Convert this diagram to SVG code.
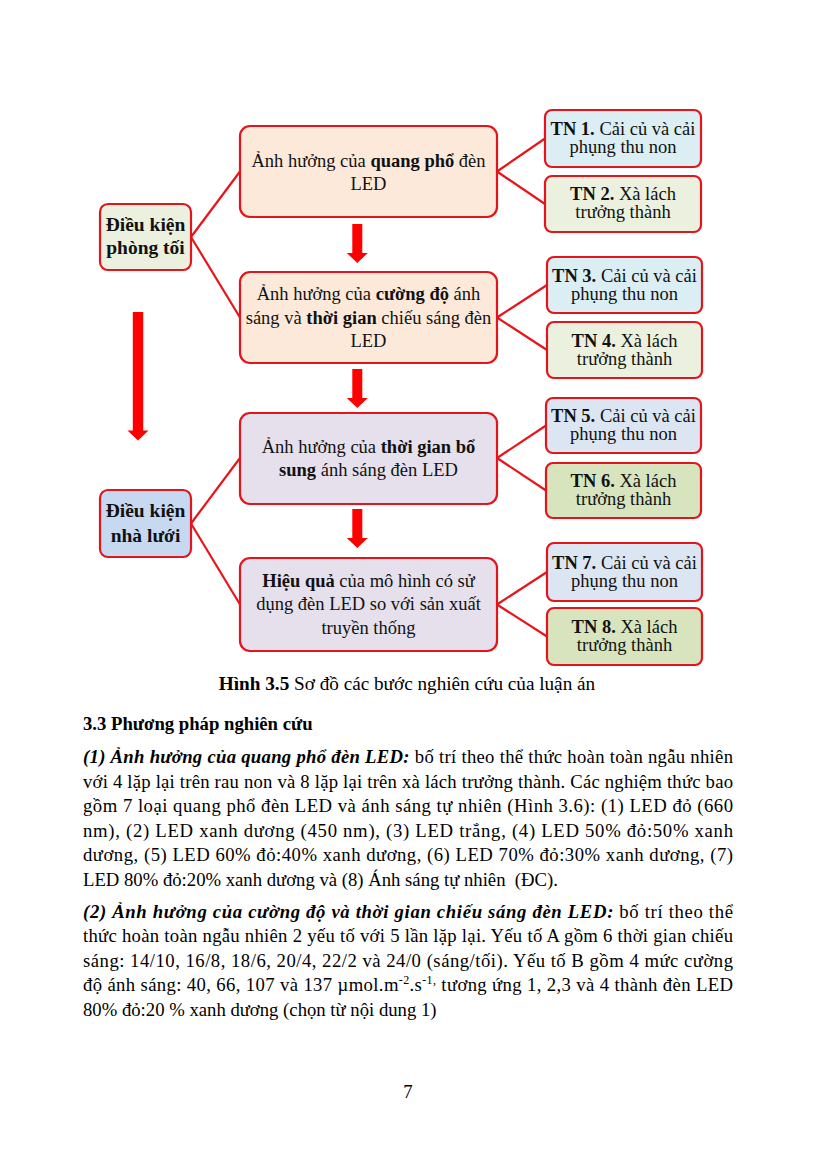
<svg xmlns="http://www.w3.org/2000/svg" width="816" height="1158" viewBox="0 0 816 1158">
<style>
  .box { stroke: #e3141b; stroke-width: 2.2; }
  .peach { fill: #fde9d9; }
  .lav { fill: #e5e0ec; }
  .cyan { fill: #dbeef4; }
  .pblue { fill: #dce6f2; }
  .olive { fill: #ebf1de; }
  .green { fill: #d7e4bd; }
  .blue { fill: #c6d9f1; }
  .t { font-family: "Liberation Serif", "Times New Roman", serif; font-size: 18.5px; fill: #111; text-anchor: middle; }
  .tl { font-family: "Liberation Serif", "Times New Roman", serif; font-size: 19.5px; font-weight: bold; fill: #111; text-anchor: middle; }
  .b { font-weight: bold; }
  .body { font-family: "Liberation Serif", "Times New Roman", serif; font-size: 18.7px; fill: #000; }
  .cap { font-family: "Liberation Serif", "Times New Roman", serif; font-size: 19.2px; fill: #000; text-anchor: middle; }
  .bi { font-weight: bold; font-style: italic; }
  .conn line { stroke: #e8141c; stroke-width: 2.2; }
  .arrow { fill: #ff0000; }
</style>

<!-- connectors -->
<g id="connectors" class="conn">
  <line x1="191" y1="237" x2="240" y2="171.5"/>
  <line x1="191" y1="237" x2="240" y2="317.5"/>
  <line x1="191" y1="523.5" x2="240" y2="458"/>
  <line x1="191" y1="523.5" x2="240" y2="604.5"/>
  <line x1="497" y1="171.5" x2="545" y2="138.5"/>
  <line x1="497" y1="171.5" x2="545" y2="204"/>
  <line x1="497" y1="317.5" x2="547" y2="285"/>
  <line x1="497" y1="317.5" x2="547" y2="350"/>
  <line x1="497" y1="458" x2="546" y2="425.5"/>
  <line x1="497" y1="458" x2="546" y2="490.5"/>
  <line x1="497" y1="604.5" x2="547" y2="572"/>
  <line x1="497" y1="604.5" x2="547" y2="636.5"/>
  <polygon class="arrow" points="352.3,224 362.3,224 362.3,253 367.8,253 357.3,263 346.8,253 352.3,253"/>
  <polygon class="arrow" points="352.3,369 362.3,369 362.3,398 367.8,398 357.3,408 346.8,398 352.3,398"/>
  <polygon class="arrow" points="352.3,509 362.3,509 362.3,538 367.8,538 357.3,548 346.8,538 352.3,538"/>
  <polygon class="arrow" points="132.8,312 143.2,312 143.2,430.5 148.5,430.5 138,440.5 127.5,430.5 132.8,430.5"/>
</g>

<!-- left nodes -->
<g id="dieu-kien-phong-toi">
  <rect class="box olive" x="100" y="204" width="91" height="66" rx="8"/>
  <text class="tl" x="145.5" y="231">Điều kiện</text>
  <text class="tl" x="145.5" y="254">phòng tối</text>
</g>
<g id="dieu-kien-nha-luoi">
  <rect class="box blue" x="100" y="490" width="91" height="67" rx="8"/>
  <text class="tl" x="145.5" y="517">Điều kiện</text>
  <text class="tl" x="145.5" y="542">nhà lưới</text>
</g>

<!-- middle nodes -->
<g id="node-a">
  <rect class="box peach" x="240" y="126" width="257" height="91" rx="10"/>
  <text class="t" x="368.5" y="167">Ảnh hưởng của <tspan class="b">quang phổ</tspan> đèn</text>
  <text class="t" x="368.5" y="190">LED</text>
</g>
<g id="node-b">
  <rect class="box peach" x="240" y="272" width="257" height="91" rx="10"/>
  <text class="t" x="368.5" y="300">Ảnh hưởng của <tspan class="b">cường độ</tspan> ánh</text>
  <text class="t" x="368.5" y="324">sáng và <tspan class="b">thời gian</tspan> chiếu sáng đèn</text>
  <text class="t" x="368.5" y="347">LED</text>
</g>
<g id="node-c">
  <rect class="box lav" x="240" y="413" width="257" height="91" rx="10"/>
  <text class="t" x="368.5" y="453">Ảnh hưởng của <tspan class="b">thời gian bổ</tspan></text>
  <text class="t" x="368.5" y="476"><tspan class="b">sung</tspan> ánh sáng đèn LED</text>
</g>
<g id="node-d">
  <rect class="box lav" x="240" y="558" width="257" height="93" rx="10"/>
  <text class="t" x="368.5" y="587"><tspan class="b">Hiệu quả</tspan> của mô hình có sử</text>
  <text class="t" x="368.5" y="610">dụng đèn LED so với sản xuất</text>
  <text class="t" x="368.5" y="634">truyền thống</text>
</g>

<!-- TN nodes -->
<g id="tn1">
  <rect class="box cyan" x="545" y="110" width="156" height="57" rx="7"/>
  <text class="t" x="623" y="135"><tspan class="b">TN 1.</tspan> Cải củ và cải</text>
  <text class="t" x="623" y="153">phụng thu non</text>
</g>
<g id="tn2">
  <rect class="box olive" x="545" y="176" width="156" height="56" rx="7"/>
  <text class="t" x="623" y="200"><tspan class="b">TN 2.</tspan> Xà lách</text>
  <text class="t" x="623" y="218">trưởng thành</text>
</g>
<g id="tn3">
  <rect class="box cyan" x="547" y="257" width="155" height="56" rx="7"/>
  <text class="t" x="624.5" y="281.5"><tspan class="b">TN 3.</tspan> Cải củ và cải</text>
  <text class="t" x="624.5" y="299.5">phụng thu non</text>
</g>
<g id="tn4">
  <rect class="box olive" x="547" y="322" width="155" height="56" rx="7"/>
  <text class="t" x="624.5" y="346.5"><tspan class="b">TN 4.</tspan> Xà lách</text>
  <text class="t" x="624.5" y="364.5">trưởng thành</text>
</g>
<g id="tn5">
  <rect class="box pblue" x="546" y="398" width="155" height="55" rx="7"/>
  <text class="t" x="623.5" y="422"><tspan class="b">TN 5.</tspan> Cải củ và cải</text>
  <text class="t" x="623.5" y="440">phụng thu non</text>
</g>
<g id="tn6">
  <rect class="box green" x="546" y="463" width="155" height="55" rx="7"/>
  <text class="t" x="623.5" y="487"><tspan class="b">TN 6.</tspan> Xà lách</text>
  <text class="t" x="623.5" y="505">trưởng thành</text>
</g>
<g id="tn7">
  <rect class="box pblue" x="547" y="543" width="155" height="58" rx="7"/>
  <text class="t" x="624.5" y="568.5"><tspan class="b">TN 7.</tspan> Cải củ và cải</text>
  <text class="t" x="624.5" y="586.5">phụng thu non</text>
</g>
<g id="tn8">
  <rect class="box green" x="547" y="608" width="155" height="57" rx="7"/>
  <text class="t" x="624.5" y="633"><tspan class="b">TN 8.</tspan> Xà lách</text>
  <text class="t" x="624.5" y="651">trưởng thành</text>
</g>

<!-- caption -->
<text class="cap" x="407" y="690"><tspan class="b">Hình 3.5</tspan> Sơ đồ các bước nghiên cứu của luận án</text>

<!-- body text -->
<text class="body b" x="83" y="730">3.3 Phương pháp nghiên cứu</text>

<text class="body" x="83" y="763" textLength="650" lengthAdjust="spacing"><tspan class="bi">(1) Ảnh hưởng của quang phổ đèn LED:</tspan> bố trí theo thể thức hoàn toàn ngẫu nhiên</text>
<text class="body" x="83" y="787.5" textLength="650" lengthAdjust="spacing">với 4 lặp lại trên rau non và 8 lặp lại trên xà lách trưởng thành. Các nghiệm thức bao</text>
<text class="body" x="83" y="812" textLength="650" lengthAdjust="spacing">gồm 7 loại quang phổ đèn LED và ánh sáng tự nhiên (Hình 3.6): (1) LED đỏ (660</text>
<text class="body" x="83" y="836.5" textLength="650" lengthAdjust="spacing">nm), (2) LED xanh dương (450 nm), (3) LED trắng, (4) LED 50% đỏ:50% xanh</text>
<text class="body" x="83" y="861" textLength="650" lengthAdjust="spacing">dương, (5) LED 60% đỏ:40% xanh dương, (6) LED 70% đỏ:30% xanh dương, (7)</text>
<text class="body" x="83" y="885.5" xml:space="preserve">LED 80% đỏ:20% xanh dương và (8) Ánh sáng tự nhiên  (ĐC).</text>

<text class="body" x="83" y="917.5" textLength="650" lengthAdjust="spacing"><tspan class="bi">(2) Ảnh hưởng của cường độ và thời gian chiếu sáng đèn LED:</tspan> bố trí theo thể</text>
<text class="body" x="83" y="942" textLength="650" lengthAdjust="spacing">thức hoàn toàn ngẫu nhiên 2 yếu tố với 5 lần lặp lại. Yếu tố A gồm 6 thời gian chiếu</text>
<text class="body" x="83" y="966.5" textLength="650" lengthAdjust="spacing">sáng: 14/10, 16/8, 18/6, 20/4, 22/2 và 24/0 (sáng/tối). Yếu tố B gồm 4 mức cường</text>
<text class="body" x="83" y="991" textLength="650" lengthAdjust="spacing">độ ánh sáng: 40, 66, 107 và 137 µmol.m<tspan font-size="12" dy="-7">-2</tspan><tspan dy="7">.s</tspan><tspan font-size="12" dy="-7">-1,</tspan><tspan dy="7"> tương ứng 1, 2,3 và 4 thành đèn LED</tspan></text>
<text class="body" x="83" y="1015.5">80% đỏ:20 % xanh dương (chọn từ nội dung 1)</text>

<text class="body" x="408" y="1098" text-anchor="middle">7</text>
</svg>
